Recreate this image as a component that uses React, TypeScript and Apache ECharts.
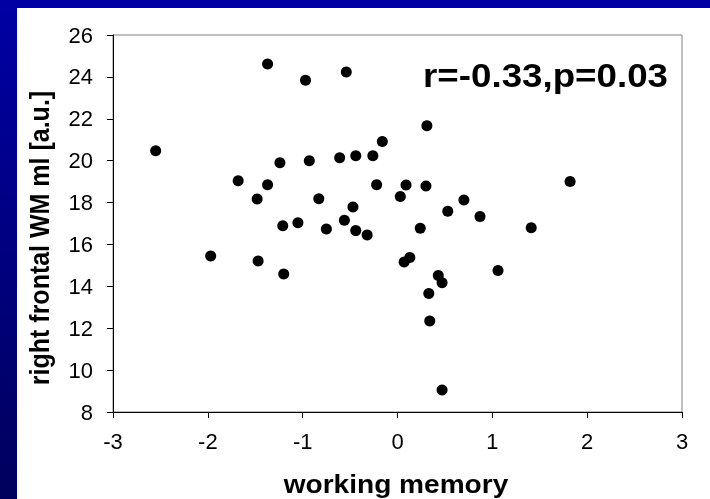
import React, { useEffect, useRef } from "react";
import * as echarts from "echarts";

const workingMemory = [
  -2.55, -1.97, -1.68, -1.48, -1.47, -1.37, -1.37, -1.24, -1.21, -1.2, -1.05,
  -0.97, -0.93, -0.83, -0.75, -0.61, -0.56, -0.54, -0.47, -0.44, -0.44, -0.32,
  -0.26, -0.22, -0.16, 0.03, 0.07, 0.09, 0.13, 0.24, 0.3, 0.31, 0.33, 0.34,
  0.43, 0.47, 0.47, 0.53, 0.7, 0.87, 1.06, 1.41, 1.82,
];
const rightFrontalWM = [
  20.47, 15.45, 19.04, 18.17, 15.21, 24.62, 18.85, 19.9, 16.89, 14.59, 17.04,
  23.84, 20.0, 18.18, 16.74, 20.14, 17.15, 24.23, 17.79, 20.24, 16.66, 16.45,
  20.24, 18.85, 20.92, 18.29, 15.16, 18.84, 15.38, 16.77, 18.79, 21.67, 13.66,
  12.34, 14.52, 14.17, 9.05, 17.58, 18.12, 17.33, 14.76, 16.8, 19.0,
];
const xAxisTitle = "working memory";
const yAxisTitle = "right frontal WM ml [a.u.]";
const annotation = "r=-0.33,p=0.03";

const FONT = "'Liberation Sans', Arial, sans-serif";

export default function App() {
  const ref = useRef<HTMLDivElement>(null);
  useEffect(() => {
    if (!ref.current) return;
    const chart = echarts.init(ref.current, null, { renderer: "svg" });
    const data = workingMemory.map((x, i) => [x, rightFrontalWM[i]]);
    chart.setOption({
      animation: false,
      textStyle: { fontFamily: FONT },
      graphic: [
        {
          type: "rect",
          z: -10,
          silent: true,
          shape: { x: 0, y: 0, width: 710, height: 499 },
          style: {
            fill: new echarts.graphic.LinearGradient(0, 0, 0, 1, [
              { offset: 0, color: "#0000a4" },
              { offset: 1, color: "#00005c" },
            ]),
          },
        },
        {
          type: "rect",
          z: -9,
          silent: true,
          shape: { x: 17, y: 8, width: 693, height: 491 },
          style: { fill: "#ffffff" },
        },
        {
          type: "text",
          x: 668,
          y: 75,
          scaleX: 1.08,
          style: {
            text: annotation,
            fontFamily: FONT,
            fontSize: 34,
            fontWeight: "bold",
            fill: "#000",
            align: "right",
            verticalAlign: "middle",
          },
        },
        {
          type: "text",
          x: 396,
          y: 484,
          scaleX: 1.08,
          style: {
            text: xAxisTitle,
            fontFamily: FONT,
            fontSize: 26,
            fontWeight: "bold",
            fill: "#000",
            align: "center",
            verticalAlign: "middle",
          },
        },
        {
          type: "text",
          x: 40,
          y: 238,
          rotation: Math.PI / 2,
          scaleY: 1.12,
          style: {
            text: yAxisTitle,
            fontFamily: FONT,
            fontSize: 25,
            fontWeight: "bold",
            fill: "#000",
            align: "center",
            verticalAlign: "middle",
          },
        },
      ],
      grid: {
        left: 113,
        top: 35,
        right: 28,
        bottom: 87,
        show: true,
        backgroundColor: "#ffffff",
        borderColor: "#808080",
        borderWidth: 1,
      },
      xAxis: {
        type: "value",
        min: -3,
        max: 3,
        interval: 1,
        axisLine: { show: true, onZero: false, lineStyle: { color: "#000", width: 1 } },
        axisTick: { show: true, inside: false, length: 6, lineStyle: { color: "#000" } },
        splitLine: { show: false },
        axisLabel: { color: "#000", fontSize: 22, fontFamily: FONT, margin: 18 },
      },
      yAxis: {
        type: "value",
        min: 8,
        max: 26,
        interval: 2,
        axisLine: { show: true, onZero: false, lineStyle: { color: "#000", width: 1 } },
        axisTick: { show: true, inside: false, length: 6, lineStyle: { color: "#000" } },
        splitLine: { show: false },
        axisLabel: { color: "#000", fontSize: 22, fontFamily: FONT, margin: 20 },
      },
      series: [
        {
          type: "scatter",
          data,
          symbol: "circle",
          symbolSize: 11,
          itemStyle: { color: "#000", opacity: 1 },
          silent: true,
        },
      ],
    });
    return () => chart.dispose();
  }, []);
  return (
    <div
      ref={ref}
      style={{ position: "fixed", left: 0, top: 0, width: 710, height: 499 }}
    />
  );
}
